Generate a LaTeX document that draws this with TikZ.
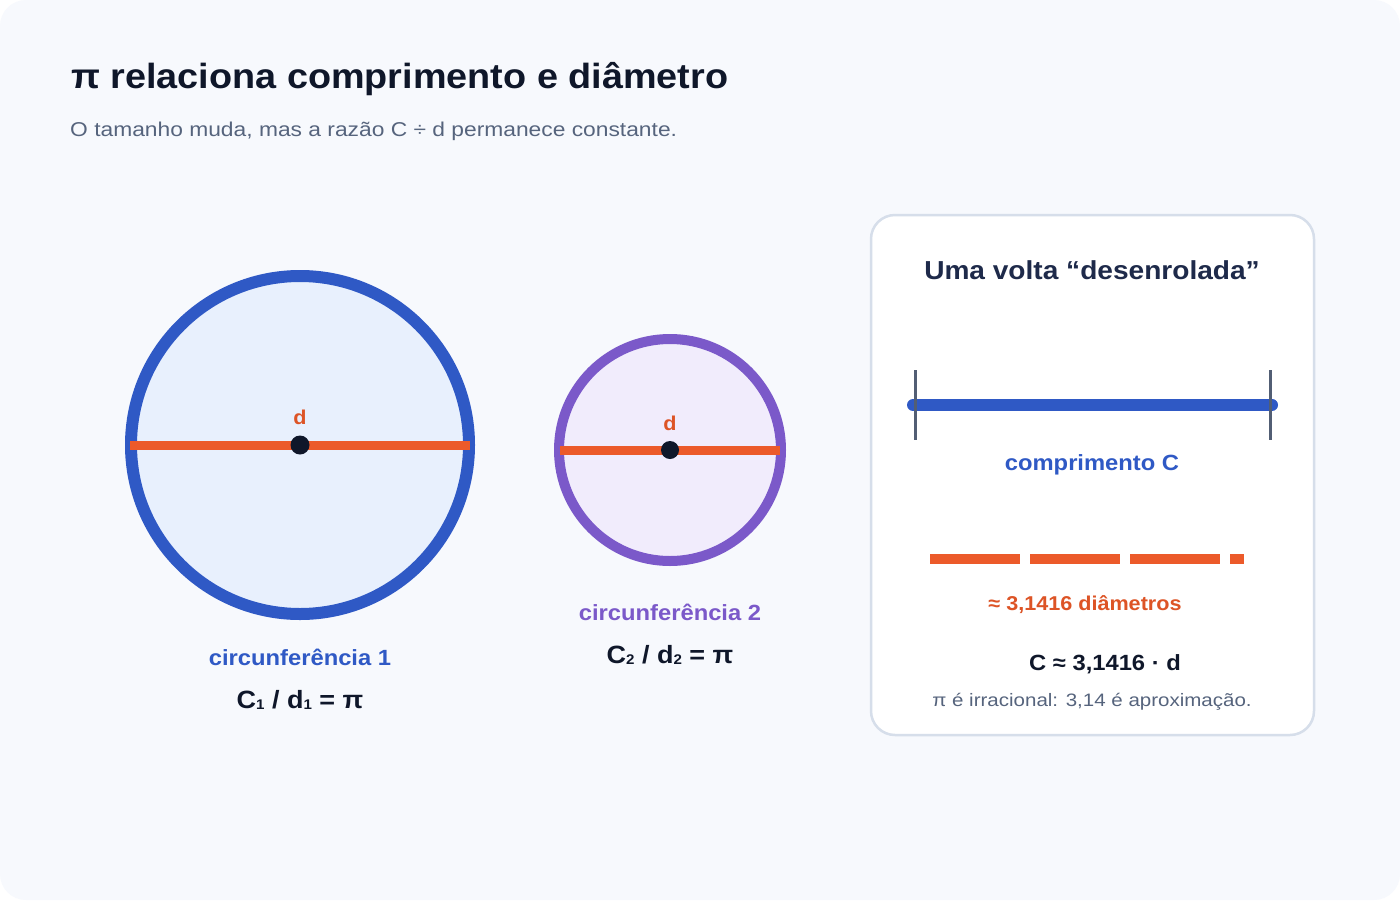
\documentclass[tikz,border=0pt]{standalone}
\usepackage{fontspec}
\setmainfont{Liberation Sans}[FakeStretch=1.08]
\newfontfamily\widereg{Liberation Sans}[FakeStretch=1.14]
\definecolor{bg}{HTML}{F7F9FD}
\definecolor{navy}{HTML}{0F172A}
\definecolor{subgray}{HTML}{56647D}
\definecolor{cblue}{HTML}{2F59C5}
\definecolor{cbluefill}{HTML}{E8F0FD}
\definecolor{corange}{HTML}{EC5A2A}
\definecolor{torange}{HTML}{DD5426}
\definecolor{cpurple}{HTML}{7B59C9}
\definecolor{cpurplefill}{HTML}{F1ECFC}
\definecolor{boxline}{HTML}{D6DEEA}
\definecolor{tickgray}{HTML}{525E74}
\definecolor{boxtitle}{HTML}{1E2A4A}
\newcommand{\fs}[1]{\fontsize{#1}{#1}\selectfont}
\newcommand{\subdig}[1]{\raisebox{-1pt}{\fs{14}#1}}
\tikzset{
  txt/.style={inner sep=0pt, anchor=base},
  diam/.style={draw=corange, line width=9pt},
  centerdot/.style={fill=navy, circle, inner sep=0pt, minimum size=19pt},
}
\begin{document}
\begin{tikzpicture}[x=1pt,y=-1pt]
\useasboundingbox (0,0) rectangle (1400,900);
\fill[white] (0,0) rectangle (1400,900);
\fill[bg, rounded corners=26pt] (0,0) rectangle (1400,900);

% titles
\node[txt, anchor=base west, text=navy, font=\fs{35}\bfseries] (title) at (71,88) {π relaciona comprimento e diâmetro};
\node[txt, anchor=base west, text=subgray, font=\widereg\fs{20}] (subtitle) at (70,136) {O tamanho muda, mas a razão C ÷ d permanece constante.};

% circle 1
\draw[draw=cblue, fill=cbluefill, line width=12pt] (300,445) circle (169);
\coordinate (d1l) at (130,445);
\coordinate (d1r) at (470,445);
\draw[diam] (d1l) -- (d1r);
\node[centerdot] (c1) at (300,445) {};
\node[txt, text=torange, font=\fs{20}\bfseries] (dl1) at (300,424) {d};
\node[txt, text=cblue, font=\fs{22}\bfseries] (n1) at (300,665) {circunferência 1};
\node[txt, text=navy, font=\fs{25}\bfseries] (f1) at (300,708) {C\subdig{1} / d\subdig{1} = π};

% circle 2
\draw[draw=cpurple, fill=cpurplefill, line width=10pt] (670,450) circle (111);
\coordinate (d2l) at (560,450);
\coordinate (d2r) at (780,450);
\draw[diam] (d2l) -- (d2r);
\node[centerdot, minimum size=18pt] (c2) at (670,450) {};
\node[txt, text=torange, font=\fs{20}\bfseries] (dl2) at (670,430) {d};
\node[txt, text=cpurple, font=\fs{22}\bfseries] (n2) at (670,620) {circunferência 2};
\node[txt, text=navy, font=\fs{25}\bfseries] (f2) at (670,663) {C\subdig{2} / d\subdig{2} = π};

% box
\draw[draw=boxline, fill=white, line width=2.5pt, rounded corners=24pt] (871,215) rectangle (1314,735);
\node[txt, text=boxtitle, font=\fs{26}\bfseries] (bt) at (1092,279) {Uma volta “desenrolada”};
\coordinate (ul) at (913,405);
\coordinate (ur) at (1272,405);
\draw[cblue, line width=12pt, line cap=round] (ul) -- (ur);
\coordinate (t1a) at (915,370); \coordinate (t1b) at (915,440);
\coordinate (t2a) at (1270,370); \coordinate (t2b) at (1270,440);
\draw[tickgray, line width=3pt] (t1a) -- (t1b);
\draw[tickgray, line width=3pt] (t2a) -- (t2b);
\node[txt, text=cblue, font=\fs{22}\bfseries] (cc) at (1092,470) {comprimento C};
\coordinate (dsl) at (930,559);
\coordinate (dsr) at (1244,559);
\draw[corange, line width=10pt, dash pattern=on 90pt off 10pt] (dsl) -- (dsr);
\node[txt, text=torange, font=\fs{20}\bfseries] (ad) at (1085,610) {≈ 3,1416 diâmetros};
\node[txt, text=navy, font=\fs{22}\bfseries] (eq) at (1105,670) {C ≈ 3,1416 · d};
\node[txt, text=subgray, font=\widereg\fs{18}] (note) at (1092,706) {π é irracional: 3,14 é aproximação.};
\end{tikzpicture}
\end{document}
